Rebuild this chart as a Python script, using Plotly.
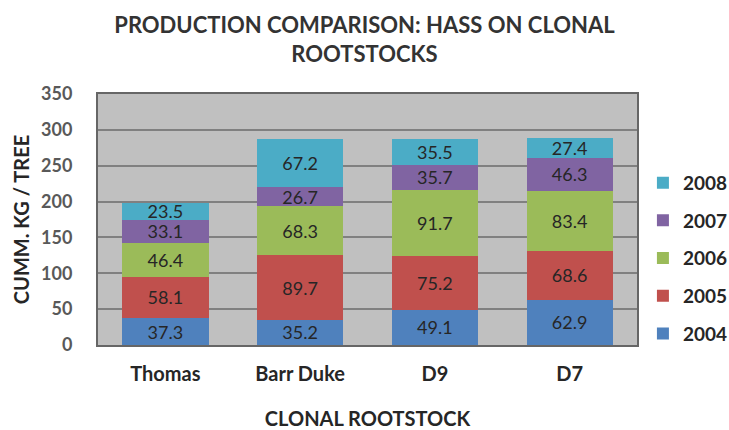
import plotly.graph_objects as go

categories = ["Thomas", "Barr Duke", "D9", "D7"]
years = ["2004", "2005", "2006", "2007", "2008"]
v2004 = [37.3, 35.2, 49.1, 62.9]
v2005 = [58.1, 89.7, 75.2, 68.6]
v2006 = [46.4, 68.3, 91.7, 83.4]
v2007 = [33.1, 26.7, 35.7, 46.3]
v2008 = [23.5, 67.2, 35.5, 27.4]
series = [v2004, v2005, v2006, v2007, v2008]
colors = ["#4F81BD", "#C0504D", "#9BBB59", "#8064A2", "#4BACC6"]

FONT = "Lato"
fig = go.Figure()
for i, (name, vals, col) in enumerate(zip(years, series, colors)):
    fig.add_trace(go.Bar(
        x=categories, y=vals, name=name, legendgroup=name,
        legendrank=100 - i,
        marker=dict(color=col, line=dict(width=0)),
        text=[f"{v:.1f}" for v in vals], textposition="inside",
        insidetextanchor="middle", textangle=0, constraintext="none",
        textfont=dict(family=FONT, size=18, color="#262626"),
        hoverinfo="skip",
    ))

fig.update_layout(
    barmode="stack", bargap=0.36,
    width=729, height=430,
    margin=dict(l=98, r=92, t=94, b=85, autoexpand=False),
    paper_bgcolor="white", plot_bgcolor="#C0C0C0",
    font=dict(family=FONT, color="#262626"),
    title=dict(text="<b>PRODUCTION COMPARISON: HASS ON CLONAL<br>ROOTSTOCKS</b>",
               x=0.5, xanchor="center", y=0.923, yanchor="top",
               font=dict(family=FONT, size=22, color="#333333")),
    legend=dict(x=1.011, xanchor="left", y=0.722, yanchor="top",
                traceorder="grouped", tracegroupgap=10,
                font=dict(family=FONT, size=19, color="#262626", weight="bold"),
                bgcolor="rgba(0,0,0,0)", itemwidth=30),
    showlegend=True,
)
fig.update_xaxes(
    showgrid=False, showline=True, linecolor="#666666", linewidth=2, mirror=True,
    tickfont=dict(family=FONT, size=20, color="#262626", weight="bold"),
    ticks="outside", ticklen=10, tickcolor="rgba(0,0,0,0)",
    title=dict(text="<b>CLONAL ROOTSTOCK</b>", standoff=39,
               font=dict(family=FONT, size=20, color="#262626")),
)
fig.update_yaxes(
    range=[0, 350], dtick=50, showgrid=True, gridcolor="#808080", gridwidth=1.5,
    showline=True, linecolor="#666666", linewidth=2, mirror=True, zeroline=False,
    tickfont=dict(family=FONT, size=18, color="#595959", weight="bold"),
    ticks="outside", ticklen=20, tickcolor="rgba(0,0,0,0)",
    title=dict(text="<b>CUMM. KG / TREE</b>", standoff=6,
               font=dict(family=FONT, size=20, color="#262626")),
)
fig.write_html("out.html", config={"displayModeBar": False},
               post_script="document.body.style.margin='0';")
